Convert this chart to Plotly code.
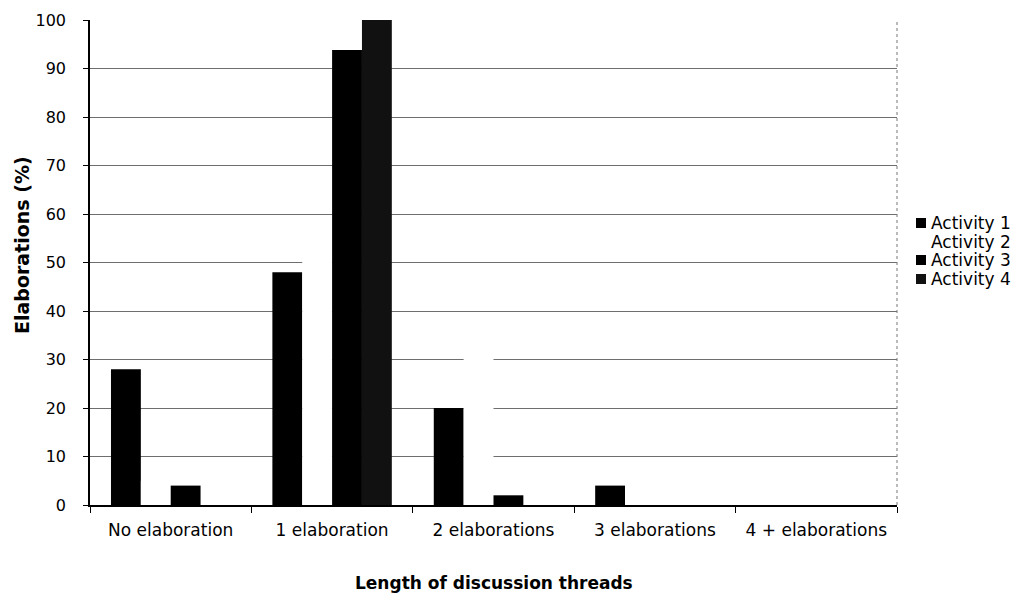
import plotly.graph_objects as go

categories = ["No elaboration", "1 elaboration", "2 elaborations", "3 elaborations", "4 + elaborations"]
activity_1 = [28, 48, 20, 4, 0]
activity_2 = [5, 55, 35, 5, 0]
activity_3 = [4, 93.8, 2, 0, 0]
activity_4 = [0, 100, 0, 0, 0]
series_names = ["Activity 1", "Activity 2", "Activity 3", "Activity 4"]
series_colors = ["#000000", "#ffffff", "#000000", "#111111"]
y_ticks = [0, 10, 20, 30, 40, 50, 60, 70, 80, 90, 100]

FONT = "DejaVu Sans, Verdana, sans-serif"
OFF = 8  # default page body margin
W, H = 1026 - OFF, 596 - OFF
ML, MR, MT, MB = 90 - OFF, 129, 20 - OFF, 91
PW, PH = W - ML - MR, H - MT - MB


def px_x(px):
    # page pixel -> paper coordinate
    return (px - OFF - ML) / PW


def px_y(py):
    return (H - MB - (py - OFF)) / PH


fig = go.Figure()
for name, vals, col in zip(series_names, [activity_1, activity_2, activity_3, activity_4], series_colors):
    fig.add_trace(go.Bar(x=categories, y=vals, name=name, showlegend=False,
                         marker=dict(color=col, line=dict(width=0))))

fig.update_layout(
    width=W, height=H,
    margin=dict(l=ML, r=MR, t=MT, b=MB, autoexpand=False),
    paper_bgcolor="white", plot_bgcolor="white",
    barmode="group", bargap=0.26, bargroupgap=0,
    font=dict(family=FONT, color="black"),
    showlegend=False,
)
fig.update_xaxes(
    automargin=False,
    showline=True, linecolor="black", linewidth=1.5,
    ticks="outside", tickson="boundaries", ticklen=6, tickcolor="black",
    tickfont=dict(size=17, family=FONT), ticklabelstandoff=9,
    showgrid=False,
)
fig.update_yaxes(
    automargin=False,
    range=[0, 100], tickvals=y_ticks,
    showline=True, linecolor="black", linewidth=1.5,
    ticks="outside", ticklen=5, tickcolor="black",
    tickfont=dict(size=16, family=FONT), ticklabelstandoff=14,
    showgrid=True, gridcolor="#6e6e6e", gridwidth=1,
    zeroline=False,
)
fig.add_shape(type="line", xref="paper", yref="paper", x0=1, x1=1, y0=0, y1=1,
              line=dict(color="#777777", width=1, dash="dot"))

# axis titles
fig.add_annotation(text="<b>Elaborations (%)</b>", xref="paper", yref="paper",
                   x=px_x(22), y=px_y(245), textangle=-90, showarrow=False,
                   xanchor="center", yanchor="middle",
                   font=dict(size=19, family=FONT))
fig.add_annotation(text="<b>Length of discussion threads</b>", xref="paper", yref="paper",
                   x=0.5, y=px_y(583), showarrow=False, xanchor="center", yanchor="middle",
                   font=dict(size=17, family=FONT))

# legend (drawn manually for tight spacing)
legend_y = [223, 242, 260, 279]
for name, col, ly in zip(series_names, series_colors, legend_y):
    fig.add_shape(type="rect", xref="paper", yref="paper",
                  x0=px_x(916), x1=px_x(926), y0=px_y(ly + 5), y1=px_y(ly - 5),
                  fillcolor=col, line=dict(width=0))
    fig.add_annotation(text=name, xref="paper", yref="paper",
                       x=px_x(929), y=px_y(ly), showarrow=False,
                       xanchor="left", yanchor="middle",
                       font=dict(size=17, family=FONT))

fig.write_html("out.html")
